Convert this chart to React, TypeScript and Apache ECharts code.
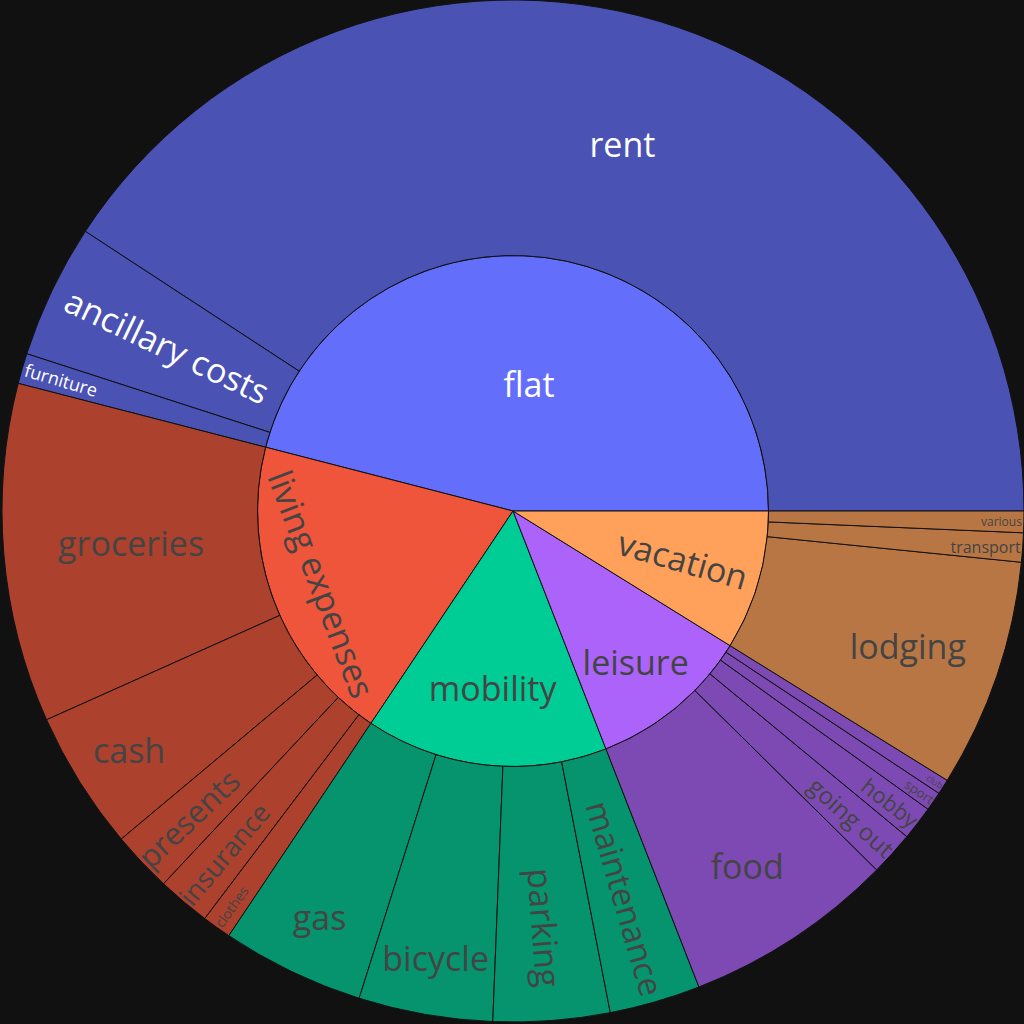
import React, { useEffect, useRef } from "react";
import * as echarts from "echarts";

// ---- data ----
const groups = ["flat", "living expenses", "mobility", "leisure", "vacation"];
const groupColors = ["#636efa", "#ef553b", "#00cc96", "#ab63fa", "#ffa15a"];
const leafColors = ["#4a52b4", "#ac412e", "#05946e", "#7d4ab4", "#b87644"];

const flatItems = ["rent", "ancillary costs", "furniture"];
const flatValues = [1020, 106, 24];

const livingItems = ["groceries", "cash", "presents", "insurance", "clothes"];
const livingValues = [268, 110, 48, 42, 23];

const mobilityItems = ["gas", "bicycle", "parking", "maintenance"];
const mobilityValues = [113, 106, 92, 72];

const leisureItems = ["food", "going out", "hobby", "sport", "club"];
const leisureValues = [167, 35, 27, 15, 12];

const vacationItems = ["lodging", "transport", "various"];
const vacationValues = [181, 23, 17];

const childItems = [flatItems, livingItems, mobilityItems, leisureItems, vacationItems];
const childValues = [flatValues, livingValues, mobilityValues, leisureValues, vacationValues];

// ---- label styling (positions / sizes only) ----
const WHITE = "#ffffff";
const labelStyle: Record<string, any> = {
  flat: { rotate: 0, color: WHITE },
  "living expenses": { rotate: "tangential", verticalAlign: "top", padding: [60, 0, 0, 0] },
  mobility: { rotate: 0, verticalAlign: "top", padding: [33, 13, 0, 0] },
  leisure: { rotate: 0, verticalAlign: "top", padding: [36, 0, 0, 82] },
  vacation: { rotate: "radial", padding: [0, 0, 0, 98] },
  rent: { rotate: 0, color: WHITE },
  "ancillary costs": { rotate: "radial", color: WHITE },
  furniture: { rotate: "radial", color: WHITE, fontSize: 18, align: "right", distance: 3 },
  groceries: { rotate: 0 },
  cash: { rotate: 0, verticalAlign: "top", padding: [19, 118, 0, 0] },
  presents: { rotate: "radial", fontSize: 31, align: "right", distance: 1 },
  insurance: { rotate: "radial", fontSize: 27, align: "right", distance: 1 },
  clothes: { rotate: "radial", fontSize: 14, align: "right", distance: 2 },
  gas: { rotate: 0, verticalAlign: "top", padding: [44, 55, 0, 0] },
  bicycle: { rotate: 0, verticalAlign: "top", padding: [52, 23, 0, 0] },
  parking: { rotate: "radial", padding: [0, 0, 0, 69] },
  maintenance: { rotate: "radial", fontSize: 33, padding: [0, 0, 0, 40] },
  food: { rotate: 0, verticalAlign: "top", padding: [18, 0, 0, 47] },
  "going out": { rotate: "radial", fontSize: 24, align: "right", distance: 2 },
  hobby: { rotate: "radial", fontSize: 22, align: "right", distance: 2 },
  sport: { rotate: "radial", fontSize: 13, align: "right", distance: 1 },
  club: { rotate: "radial", fontSize: 9, align: "right", distance: 1 },
  lodging: { rotate: 0, verticalAlign: "top", lineHeight: 24, padding: [0, 0, 0, 64] },
  transport: { rotate: 0, fontSize: 16, align: "right", distance: 2 },
  various: { rotate: 0, fontSize: 12, align: "right", distance: 2 },
};

function buildData() {
  return groups.map((g, gi) => ({
    name: g,
    itemStyle: { color: groupColors[gi] },
    label: labelStyle[g] || {},
    children: childItems[gi].map((c, ci) => ({
      name: c,
      value: childValues[gi][ci],
      itemStyle: { color: leafColors[gi] },
      label: labelStyle[c] || {},
    })),
  }));
}

export default function App() {
  const ref = useRef<HTMLDivElement>(null);
  useEffect(() => {
    if (!ref.current) return;
    const chart = echarts.init(ref.current, undefined, { renderer: "svg" });
    chart.setOption({
      animation: false,
      backgroundColor: "#111111",
      series: [
        {
          type: "sunburst",
          center: [513, 511],
          radius: [0, 511],
          startAngle: 0,
          clockwise: false,
          sort: null,
          nodeClick: false,
          emphasis: { disabled: true },
          itemStyle: { borderColor: "#111111", borderWidth: 1 },
          label: {
            fontFamily: "Open Sans",
            fontSize: 34,
            color: "#444444",
            align: "center",
          },
          data: buildData(),
        },
      ],
    });
    return () => chart.dispose();
  }, []);
  return (
    <div
      ref={ref}
      style={{ position: "fixed", left: 0, top: 0, width: 1024, height: 1024 }}
    />
  );
}
